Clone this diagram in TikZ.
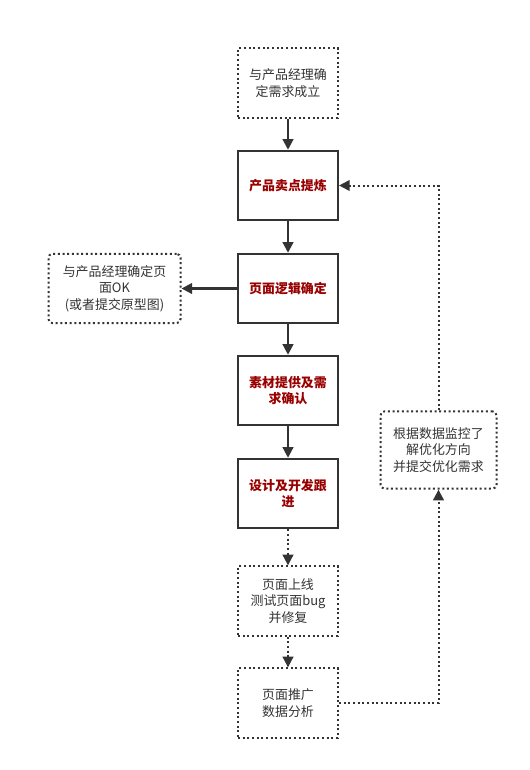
\documentclass[tikz,border=0pt]{standalone}
\usepackage{fontspec}
\usepackage{tikz}
\usetikzlibrary{arrows.meta}
\newfontfamily\cjk{Noto Sans CJK SC}
\definecolor{StepRed}{HTML}{990000}
\definecolor{InkGray}{HTML}{333333}

\tikzset{
  stepbox/.style={draw=InkGray, line width=1.6pt, minimum width=75pt, minimum height=52pt,
    align=center, font=\cjk\bfseries\fontsize{9.7}{12.5}\selectfont, text=StepRed},
  notebox/.style={draw=InkGray, line width=1.5pt, dotted, minimum width=75pt, minimum height=52pt,
    align=center, font=\cjk\fontsize{9.7}{12.5}\selectfont, text=InkGray},
  flow/.style={draw=InkGray, line width=1.6pt, -{Triangle[length=8pt,width=8pt]}},
  dotflow/.style={draw=InkGray, line width=1.5pt, dotted, -{Triangle[length=8pt,width=8pt]}}
}

\begin{document}
\begin{tikzpicture}[x=0.75pt,y=-0.75pt]
  \useasboundingbox (0,0) rectangle (529,770);
  % main column
  \node[notebox] (confirm) at (288,83) {与产品经理确\\定需求成立};
  \node[stepbox] (selling) at (288,185.5) {产品卖点提炼};
  \node[stepbox] (logic) at (288,288.5) {页面逻辑确定};
  \node[stepbox] (assets) at (288,390.5) {素材提供及需\\求确认};
  \node[stepbox] (develop) at (288,493.5) {设计及开发跟\\进};
  \node[notebox] (online) at (288,601) {页面上线\\测试页面bug\\并修复};
  \node[notebox] (promote) at (288,703) {页面推广\\数据分析};
  % side notes
  \node[notebox, rounded corners=3pt, minimum width=99pt] (proto) at (114.5,288.5)
    {与产品经理确定页\\面OK\\(或者提交原型图)};
  \node[notebox, rounded corners=3pt, minimum width=87pt, minimum height=58pt] (optimize) at (438.5,450)
    {根据数据监控了\\解优化方向\\并提交优化需求};
  \coordinate (loopdown) at (438.5,703);
  \coordinate (loopup) at (438.5,185.5);
  % connectors
  \draw[flow] (confirm) -- (selling);
  \draw[flow] (selling) -- (logic);
  \draw[flow] (logic) -- (proto);
  \draw[flow] (logic) -- (assets);
  \draw[flow] (assets) -- (develop);
  \draw[dotflow] (develop) -- (online);
  \draw[dotflow] (online) -- (promote);
  \draw[dotflow] (promote) -- (loopdown) -- (optimize);
  \draw[dotflow] (optimize) -- (loopup) -- (selling);
\end{tikzpicture}
\end{document}
